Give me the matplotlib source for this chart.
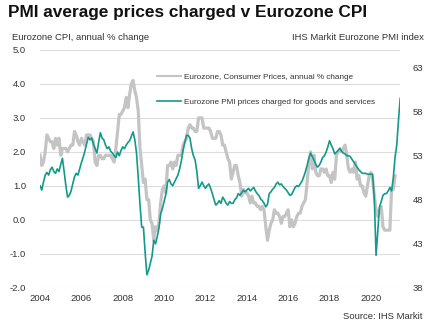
import numpy as np
import matplotlib
matplotlib.use("Agg")
import matplotlib.pyplot as plt

plt.rcParams['font.family'] = ['Liberation Sans', 'DejaVu Sans']

# Eurozone HICP, annual % change, Jan 2004 - Mar 2021
cpi = [
    1.9, 1.6, 1.7, 2.0, 2.5, 2.4, 2.3, 2.3, 2.1, 2.4, 2.2, 2.4,   # 2004
    1.9, 2.1, 2.1, 2.1, 2.0, 2.1, 2.2, 2.2, 2.6, 2.5, 2.3, 2.2,   # 2005
    2.4, 2.3, 2.2, 2.5, 2.5, 2.5, 2.4, 2.3, 1.7, 1.6, 1.9, 1.9,   # 2006
    1.8, 1.8, 1.9, 1.9, 1.9, 1.9, 1.8, 1.7, 2.1, 2.6, 3.1, 3.1,   # 2007
    3.2, 3.3, 3.6, 3.3, 3.7, 4.0, 4.1, 3.8, 3.6, 3.2, 2.1, 1.6,   # 2008
    1.1, 1.2, 0.6, 0.6, 0.0, -0.1, -0.6, -0.2, -0.3, -0.1, 0.5, 0.9,  # 2009
    1.0, 0.8, 1.6, 1.6, 1.7, 1.5, 1.7, 1.6, 1.9, 1.9, 1.9, 2.2,   # 2010
    2.3, 2.4, 2.7, 2.8, 2.7, 2.7, 2.6, 2.6, 3.0, 3.0, 3.0, 2.7,   # 2011
    2.7, 2.7, 2.7, 2.6, 2.4, 2.4, 2.4, 2.6, 2.6, 2.5, 2.2, 2.2,   # 2012
    2.0, 1.8, 1.7, 1.2, 1.4, 1.6, 1.6, 1.3, 1.1, 0.7, 0.9, 0.8,   # 2013
    0.8, 0.7, 0.5, 0.7, 0.5, 0.5, 0.4, 0.4, 0.3, 0.4, 0.3, -0.2,  # 2014
    -0.6, -0.3, -0.1, 0.0, 0.3, 0.2, 0.2, 0.1, -0.1, 0.1, 0.1, 0.2,  # 2015
    0.3, -0.2, 0.0, -0.2, -0.1, 0.1, 0.2, 0.2, 0.4, 0.5, 0.6, 1.1,  # 2016
    1.7, 2.0, 1.5, 1.9, 1.4, 1.3, 1.3, 1.5, 1.5, 1.4, 1.5, 1.3,   # 2017
    1.3, 1.1, 1.4, 1.2, 1.9, 2.0, 2.1, 2.0, 2.1, 2.2, 1.9, 1.5,   # 2018
    1.4, 1.5, 1.4, 1.7, 1.2, 1.3, 1.0, 1.0, 0.8, 0.7, 1.0, 1.3,   # 2019
    1.4, 1.2, 0.7, 0.3, 0.1, 0.3, 0.4, -0.2, -0.3, -0.3, -0.3, -0.3,  # 2020
    0.9, 0.9, 1.3,                                                # 2021
]

# IHS Markit Eurozone PMI prices charged index, Jan 2004 - Jun 2021
pmi = [
    49.6, 49.1, 50.0, 50.8, 51.1, 50.8, 51.4, 51.7, 51.2, 51.0, 51.5, 51.2,  # 2004
    52.0, 52.7, 51.2, 49.6, 48.3, 48.5, 49.0, 49.8, 50.6, 51.0, 50.8, 51.5,  # 2005
    52.2, 52.8, 53.5, 54.3, 55.1, 54.8, 55.0, 54.3, 53.8, 53.3, 54.5, 55.6,  # 2006
    55.0, 54.8, 54.2, 53.8, 54.0, 53.5, 53.3, 53.0, 52.8, 53.4, 53.0, 53.6,  # 2007
    54.0, 53.8, 54.2, 54.5, 54.7, 55.2, 55.7, 54.8, 53.3, 50.5, 47.5, 44.9,  # 2008
    44.9, 42.0, 39.5, 40.0, 40.8, 41.6, 43.4, 43.0, 43.8, 44.8, 46.4, 47.0,  # 2009
    47.8, 48.6, 50.0, 50.3, 49.8, 49.6, 50.0, 50.4, 50.8, 51.5, 52.4, 53.6,  # 2010
    54.5, 55.3, 55.3, 55.0, 53.8, 53.0, 52.5, 51.2, 49.3, 49.6, 50.0, 49.6,  # 2011
    49.3, 49.6, 49.8, 49.3, 48.7, 48.0, 47.4, 47.6, 47.9, 47.6, 48.3, 48.0,  # 2012
    47.6, 47.4, 47.8, 47.6, 47.6, 48.0, 48.2, 48.7, 48.5, 48.8, 49.1, 48.9,  # 2013
    49.1, 49.3, 49.0, 49.2, 49.4, 49.0, 48.7, 48.5, 48.1, 47.9, 47.6, 47.2,  # 2014
    47.5, 48.7, 48.9, 49.2, 49.4, 49.8, 50.0, 49.7, 49.8, 49.5, 49.3, 49.1,  # 2015
    48.8, 48.5, 48.6, 49.0, 49.4, 49.6, 49.5, 49.8, 50.1, 50.6, 51.2, 51.9,  # 2016
    52.7, 53.3, 52.9, 52.5, 52.0, 51.7, 51.9, 52.3, 52.8, 53.0, 53.4, 54.0,  # 2017
    54.7, 54.2, 53.8, 53.2, 53.4, 53.6, 53.8, 53.5, 53.3, 53.2, 53.0, 53.0,  # 2018
    52.9, 52.6, 52.3, 52.0, 51.7, 51.4, 51.2, 51.0, 51.0, 51.0, 50.9, 50.9,  # 2019
    50.9, 50.9, 48.0, 41.7, 44.5, 47.2, 47.8, 48.5, 48.7, 48.7, 49.0, 49.4,  # 2020
    49.0, 50.5, 52.8, 54.2, 57.0, 59.5,                                      # 2021
]

cpi_t = 2004 + np.arange(len(cpi)) / 12
pmi_t = 2004 + np.arange(len(pmi)) / 12

year_ticks = list(range(2004, 2021, 2))
cpi_ticks = [-2.0, -1.0, 0.0, 1.0, 2.0, 3.0, 4.0, 5.0]
pmi_ticks = [38, 43, 48, 53, 58, 63]

grey = '#c4c4c4'
teal = '#12998a'
txt = '#333333'

fig = plt.figure(figsize=(4.35, 3.28), dpi=100)
ax = fig.add_axes([0.092, 0.122, 0.828, 0.726])
ax2 = ax.twinx()

l1, = ax.plot(cpi_t, cpi, color=grey, lw=2.3, solid_joinstyle='round',
              label='Eurozone, Consumer Prices, annual % change', zorder=2)
l2, = ax2.plot(pmi_t, pmi, color=teal, lw=1.2,
               label='Eurozone PMI prices charged for goods and services', zorder=3)

ax.set_xlim(2004, pmi_t[-1])
ax.set_ylim(-2, 5)
ax2.set_ylim(38, 65)
ax.set_xticks(year_ticks)
ax.set_yticks(cpi_ticks)
ax.set_yticklabels([f'{v:.1f}' for v in cpi_ticks])
ax2.set_yticks(pmi_ticks)

ax.grid(axis='y', color='#dddddd', lw=0.8)
ax.set_axisbelow(True)
for a in (ax, ax2):
    for s in a.spines.values():
        s.set_visible(False)
    a.tick_params(length=0, labelsize=6.8, labelcolor=txt)
ax.tick_params(axis='y', pad=10)
ax2.tick_params(axis='y', pad=9)
ax.tick_params(axis='x', pad=4)

ax.set_zorder(ax2.get_zorder() - 1)
ax2.patch.set_visible(False)
ax.patch.set_visible(True)

leg = ax2.legend(handles=[l1, l2], loc='upper left', bbox_to_anchor=(0.315, 0.915),
                 frameon=False, fontsize=5.9, handlelength=3.0, handletextpad=0.3,
                 labelspacing=2.1, borderaxespad=0)
for t in leg.get_texts():
    t.set_color(txt)
leg.legend_handles[0].set_linewidth(1.5)

fig.text(0.018, 0.962, 'PMI average prices charged v Eurozone CPI', fontsize=12.4,
         fontweight='bold', va='center', ha='left', color='#111111')
fig.text(0.028, 0.885, 'Eurozone CPI, annual % change', fontsize=6.8,
         va='center', ha='left', color=txt)
fig.text(0.975, 0.885, 'IHS Markit Eurozone PMI index', fontsize=6.8,
         va='center', ha='right', color=txt)
fig.text(0.972, 0.036, 'Source: IHS Markit', fontsize=6.8,
         va='center', ha='right', color=txt)

fig.savefig('out.png', dpi=100)
